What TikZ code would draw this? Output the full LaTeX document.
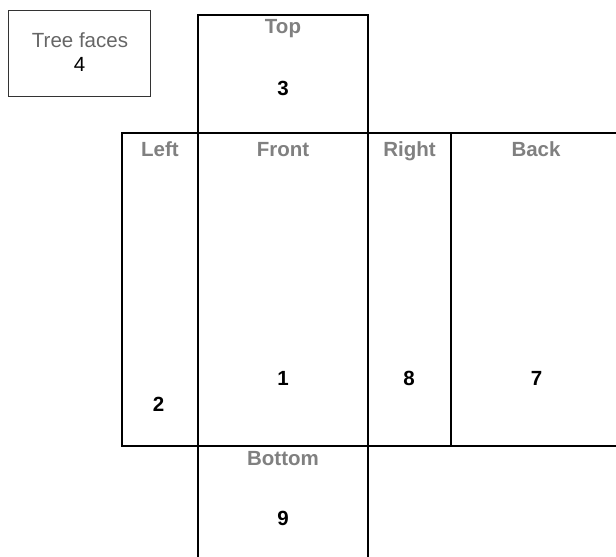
\documentclass[tikz,border=0pt]{standalone}
\usepackage{fontspec}
\setmainfont{Liberation Sans}
\definecolor{labgray}{RGB}{128,128,128}
\definecolor{tfgray}{RGB}{102,102,102}
\tikzset{
  face/.style={draw=black, line width=2pt, anchor=north west, inner sep=0pt, outer sep=0pt},
  legendbox/.style={draw=black!80, line width=1pt, anchor=north west, inner sep=0pt, outer sep=0pt},
  facename/.style={anchor=base, inner sep=0pt, text=labgray, font=\fontsize{20.5}{24}\selectfont\bfseries},
  facenum/.style={anchor=base, inner sep=0pt, text=black, font=\fontsize{20.5}{24}\selectfont\bfseries},
  legendtext/.style={anchor=base, inner sep=0pt, text=tfgray, font=\fontsize{20.5}{24}\selectfont},
  legendnum/.style={anchor=base, inner sep=0pt, text=black, font=\fontsize{20.5}{24}\selectfont}
}
\begin{document}
\begin{tikzpicture}[x=1pt,y=-1pt]
\useasboundingbox (0,0) rectangle (616,557);
\clip (0,0) rectangle (616,557);
% boxes
\node[legendbox, minimum width=142pt, minimum height=86pt] (legend) at (8,10) {};
\node[face, minimum width=170pt, minimum height=117.5pt] (top) at (198,15) {};
\node[face, minimum width=76pt, minimum height=313.5pt] (left) at (122,132.5) {};
\node[face, minimum width=170pt, minimum height=313.5pt] (front) at (198,132.5) {};
\node[face, minimum width=83pt, minimum height=313.5pt] (right) at (368,132.5) {};
\node[face, minimum width=170pt, minimum height=313.5pt] (back) at (451,132.5) {};
\node[face, minimum width=170pt, minimum height=120pt] (bottom) at (198,446) {};
% legend text
\node[legendtext] (legendlabel) at (80,47) {Tree faces};
\node[legendnum] (legendnumber) at (79.5,71) {4};
% face names
\node[facename] (topname) at (283,33.5) {Top};
\node[facename] (leftname) at (160,156) {Left};
\node[facename] (frontname) at (283,156) {Front};
\node[facename] (rightname) at (409.5,156) {Right};
\node[facename] (backname) at (536,156) {Back};
\node[facename] (bottomname) at (283,465) {Bottom};
% face numbers
\node[facenum] (topnum) at (283,95.5) {3};
\node[facenum] (leftnum) at (158.5,411.5) {2};
\node[facenum] (frontnum) at (283,385.5) {1};
\node[facenum] (rightnum) at (409,385.5) {8};
\node[facenum] (backnum) at (536.5,385.5) {7};
\node[facenum] (bottomnum) at (283,525.5) {9};
\end{tikzpicture}
\end{document}
